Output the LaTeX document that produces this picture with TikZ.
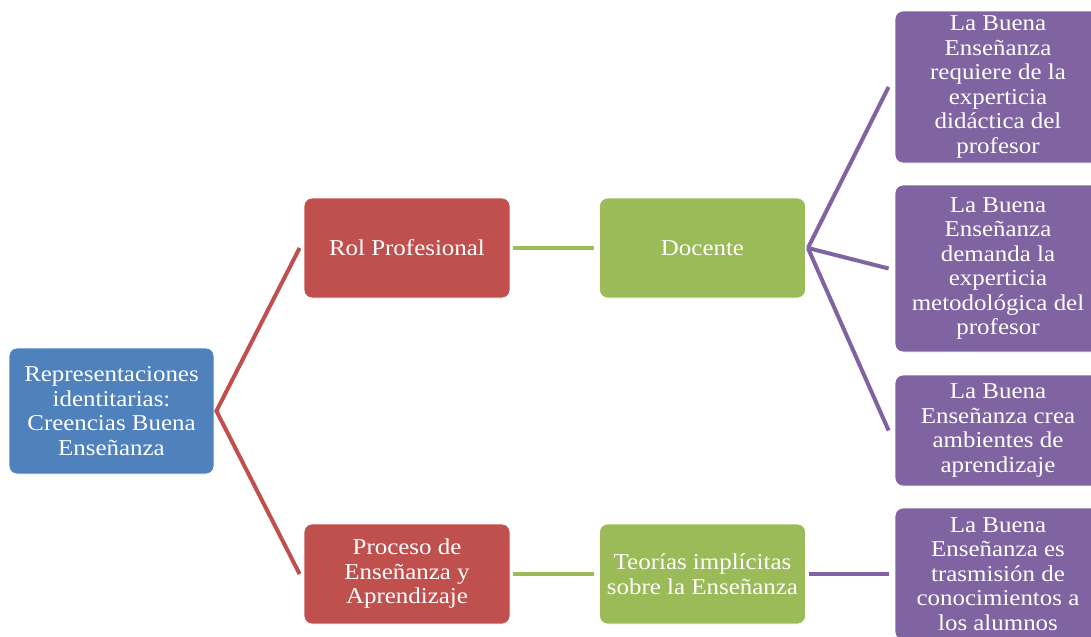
\documentclass[tikz,border=0pt]{standalone}
\usepackage{fontspec}
\setmainfont[FakeStretch=1.1]{Liberation Serif}
\usetikzlibrary{calc}
\definecolor{cblue}{HTML}{4F81BD}
\definecolor{cred}{HTML}{C0504D}
\definecolor{cgreen}{HTML}{9BBB59}
\definecolor{cpurple}{HTML}{8064A2}
\tikzset{
  box/.style={rectangle, rounded corners=6pt, draw=white, line width=0.6pt, text=white,
    align=center, inner sep=2pt, font=\fontsize{17}{18.4}\selectfont},
  rootbox/.style={box, fill=cblue, minimum width=153.75pt, minimum height=94.5pt},
  redbox/.style={box, fill=cred, minimum width=154.5pt, minimum height=75pt},
  greenbox/.style={box, fill=cgreen, minimum width=154.5pt, minimum height=75pt},
  purplebox/.style={box, fill=cpurple, minimum width=154.5pt},
  link/.style={line width=3pt},
}
\begin{document}
\begin{tikzpicture}[x=0.75pt,y=-0.75pt]
\useasboundingbox (0,0) rectangle (1091,636);
\node[rootbox] (root) at (111.5,411) {Representaciones\\identitarias:\\Creencias Buena\\Enseñanza};
\node[redbox] (rol) at (407,248) {Rol Profesional};
\node[redbox] (proc) at (407,574) {Proceso de\\Enseñanza y\\Aprendizaje};
\node[greenbox] (doc) at (702.5,248) {Docente};
\node[greenbox] (teo) at (702.5,574) {Teorías implícitas\\sobre la Enseñanza};
\node[purplebox, minimum height=114pt] (p1) at (998,87) {La Buena\\Enseñanza\\requiere de la\\experticia\\didáctica del\\profesor};
\node[purplebox, minimum height=125.25pt] (p2) at (998,268.5) {La Buena\\Enseñanza\\demanda la\\experticia\\metodológica del\\profesor};
\node[purplebox, minimum height=83.25pt] (p3) at (998,430.5) {La Buena\\Enseñanza crea\\ambientes de\\aprendizaje};
\node[purplebox, minimum height=99pt] (p4) at (998,574) {La Buena\\Enseñanza es\\trasmisión de\\conocimientos a\\los alumnos};
% connector points
\coordinate (rootR) at ($(root.east)+(2,0)$);
\coordinate (rolL) at ($(rol.west)+(-4,0)$);
\coordinate (procL) at ($(proc.west)+(-4,0)$);
\coordinate (docR) at ($(doc.east)+(2,0)$);
\coordinate (teoR) at ($(teo.east)+(3,0)$);
\draw[link, cred] (rolL) -- (rootR) -- (procL);
\draw[link, cgreen] ($(rol.east)+(3,0)$) -- ($(doc.west)+(-5,0)$);
\draw[link, cgreen] ($(proc.east)+(3,0)$) -- ($(teo.west)+(-5,0)$);
\draw[link, cpurple] (docR) -- ($(p1.west)+(-6,0)$);
\draw[link, cpurple] (docR) -- ($(p2.west)+(-6,0)$);
\draw[link, cpurple] (docR) -- ($(p3.west)+(-6,0)$);
\draw[link, cpurple] (teoR) -- ($(p4.west)+(-6,0)$);
\end{tikzpicture}
\end{document}
